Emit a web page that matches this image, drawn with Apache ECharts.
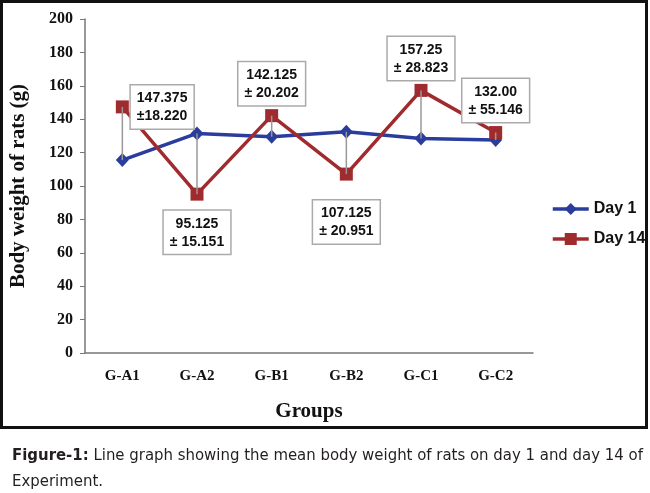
<!DOCTYPE html>
<html>
<head>
<meta charset="utf-8">
<script src="https://cdn.jsdelivr.net/npm/echarts@6/dist/echarts.min.js"></script>
<style>
  html, body { margin: 0; padding: 0; background: #fff; }
  #main { width: 650px; height: 493px; }
</style>
</head>
<body>
<div id="main"></div>
<script>
var groups = ['G-A1', 'G-A2', 'G-B1', 'G-B2', 'G-C1', 'G-C2'];
var day1 = [115.5, 131.5, 129.5, 132.5, 128.5, 127.5];
var day14 = [147.375, 95.125, 142.125, 107.125, 157.25, 132.00];
var meanText = ['147.375', '95.125', '142.125', '107.125', '157.25', '132.00'];
var sdText = ['\u00b118.220', '\u00b1 15.151', '\u00b1 20.202', '\u00b1 20.951', '\u00b1 28.823', '\u00b1 55.146'];
var yTicks = { min: 0, max: 200, interval: 20 };

var serif = '"Liberation Serif", "Times New Roman", serif';
var sans = '"Liberation Sans", Arial, sans-serif';
var narrow = '"Liberation Sans Narrow", "DejaVu Sans Condensed", sans-serif';

// where each day-14 box sits relative to its point
var labelSpots = [
  { position: 'right', distance: 2, align: 'left' },
  { position: 'bottom', distance: 10, align: 'center' },
  { position: 'top', distance: 4, align: 'center' },
  { position: 'bottom', distance: 20, align: 'center' },
  { position: 'top', distance: 4, align: 'center' },
  { position: 'top', distance: 4, align: 'center' }
];

var day14Data = day14.map(function (v, i) {
  return {
    value: v,
    label: {
      show: true,
      position: labelSpots[i].position,
      distance: labelSpots[i].distance,
      align: labelSpots[i].align,
      formatter: meanText[i] + '\n' + sdText[i]
    }
  };
});

var linkData = groups.map(function (g, i) {
  return [i, day1[i], day14[i]];
});

var chart = echarts.init(document.getElementById('main'));

chart.setOption({
  animation: false,
  backgroundColor: '#fff',
  title: {
    text: '{b|Figure-1:} Line graph showing the mean body weight of rats on day 1 and day 14 of\nExperiment.',
    left: 7,
    top: 438,
    textStyle: {
      fontFamily: narrow,
      fontSize: 16.6,
      fontWeight: 'normal',
      color: '#231f20',
      lineHeight: 26,
      rich: {
        b: { fontFamily: narrow, fontSize: 16.6, fontWeight: 'bold', color: '#231f20', lineHeight: 26 }
      }
    }
  },
  graphic: [{
    type: 'rect',
    shape: { x: 1.5, y: 1.5, width: 645, height: 426 },
    style: { fill: 'none', stroke: '#111', lineWidth: 3 },
    silent: true
  }],
  legend: {
    data: ['Day 1', 'Day 14'],
    orient: 'vertical',
    left: 551,
    top: 201,
    padding: 0,
    itemWidth: 36,
    itemHeight: 15,
    itemGap: 14,
    lineStyle: { width: 3.5 },
    textStyle: { fontFamily: sans, fontSize: 16, fontWeight: 'bold', color: '#111' }
  },
  grid: { left: 80, right: 117, top: 19, bottom: 140 },
  xAxis: {
    type: 'category',
    data: groups,
    boundaryGap: true,
    name: 'Groups',
    nameLocation: 'middle',
    nameGap: 48,
    nameTextStyle: { fontFamily: serif, fontSize: 21, fontWeight: 'bold', color: '#111' },
    axisLine: { lineStyle: { color: '#777', width: 1.5 } },
    axisTick: { show: false },
    axisLabel: { fontFamily: serif, fontSize: 15, fontWeight: 'bold', color: '#111', margin: 16 }
  },
  yAxis: {
    type: 'value',
    min: yTicks.min,
    max: yTicks.max,
    interval: yTicks.interval,
    name: 'Body weight of rats (g)',
    nameLocation: 'middle',
    nameGap: 56,
    nameTextStyle: { fontFamily: serif, fontSize: 21, fontWeight: 'bold', color: '#111' },
    axisLine: { show: true, lineStyle: { color: '#777', width: 1.5 } },
    axisTick: { show: true, length: 5, lineStyle: { color: '#777' } },
    splitLine: { show: false },
    axisLabel: { fontFamily: serif, fontSize: 16, fontWeight: 'bold', color: '#111', margin: 12 }
  },
  series: [{
    type: 'line',
    name: 'Day 1',
    data: day1,
    symbol: 'diamond',
    symbolSize: [13, 14],
    z: 3,
    lineStyle: { color: '#2b3d9c', width: 3.5 },
    itemStyle: { color: '#2b3d9c' }
  }, {
    type: 'line',
    name: 'Day 14',
    data: day14Data,
    symbol: 'rect',
    symbolSize: 13,
    z: 4,
    lineStyle: { color: '#a02b2e', width: 3.5 },
    itemStyle: { color: '#a02b2e' },
    label: {
      fontFamily: sans,
      fontSize: 14,
      fontWeight: 'bold',
      color: '#111',
      lineHeight: 18,
      backgroundColor: '#fff',
      borderColor: '#aaa',
      borderWidth: 1.5,
      padding: [4, 6, 3, 6]
    }
  }, {
    type: 'custom',
    name: 'link',
    data: linkData,
    z: 5,
    silent: true,
    renderItem: function (params, api) {
      var x = api.value(0);
      var a = api.coord([x, api.value(1)]);
      var b = api.coord([x, api.value(2)]);
      return {
        type: 'line',
        shape: { x1: a[0], y1: a[1], x2: b[0], y2: b[1] },
        style: { stroke: '#999', lineWidth: 1.5 }
      };
    }
  }]
});
</script>
</body>
</html>
